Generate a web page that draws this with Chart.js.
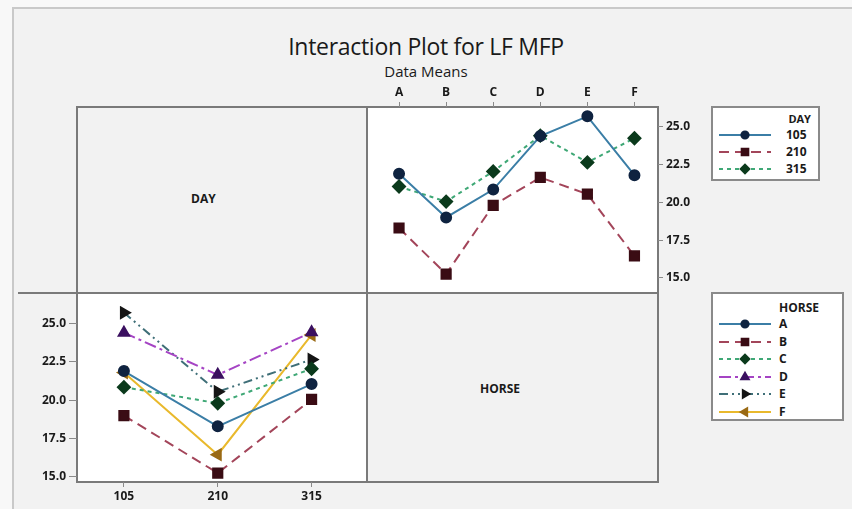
<!DOCTYPE html>
<html>
<head>
<meta charset="utf-8">
<script src="https://cdn.jsdelivr.net/npm/chart.js@4.4.1/dist/chart.umd.min.js"></script>
<style>
  html, body { margin: 0; padding: 0; }
  body { width: 852px; height: 509px; background: #f8f8f8; position: relative; overflow: hidden;
         font-family: "Open Sans", "Noto Sans", sans-serif; color: #1a1a1a; }
  .frame { position: absolute; left: 12px; top: 7px; width: 850px; height: 510px;
           background: #f2f2f2; border-left: 2px solid #c9c9c9; border-top: 2px solid #c9c9c9; }
  .cell { position: absolute; box-sizing: border-box; }
  .white { background: #fff; }
  .line { position: absolute; background: #7a7a7a; }
  .title { position: absolute; left: 0; width: 852px; top: 30px; text-align: center; font-size: 23px; letter-spacing: -0.3px; }
  .sub { position: absolute; left: 0; width: 852px; top: 61px; text-align: center; font-size: 15px; }
  .lab { position: absolute; font-size: 12px; font-weight: bold; }
  canvas.plot { position: absolute; }
  .legend { position: absolute; background: #fff; border: 2px solid #8a8a8a; box-sizing: border-box; }
  .legend .head { position: absolute; font-size: 11px; font-weight: bold; }
  .legend .row { position: absolute; left: 2px; height: 16px; width: 120px; }
  .legend .row span { position: absolute; font-size: 12px; font-weight: bold; top: -1px; }
</style>
</head>
<body>
<div class="frame"></div>
<div class="title">Interaction Plot for LF MFP</div>
<div class="sub">Data Means</div>

<div class="cell white" style="left:367px;top:107px;width:291px;height:186px"></div>
<div class="cell white" style="left:77px;top:293px;width:290px;height:189px"></div>
<div class="line" style="left:76px;top:106px;width:583px;height:2px"></div>
<div class="line" style="left:76px;top:481px;width:583px;height:2px"></div>
<div class="line" style="left:76px;top:106px;width:2px;height:377px"></div>
<div class="line" style="left:657px;top:106px;width:2px;height:377px"></div>
<div class="line" style="left:366px;top:106px;width:2px;height:377px"></div>
<div class="line" style="left:18px;top:292px;width:641px;height:2px"></div>

<div class="lab" style="left:191px;top:190px">DAY</div>
<div class="lab" style="left:480px;top:380px">HORSE</div>

<canvas class="plot" id="dayChart" style="left:367px;top:80px" width="335" height="213"></canvas>
<canvas class="plot" id="horseChart" style="left:20px;top:293px" width="347" height="216"></canvas>

<div class="legend" id="dayLegend" style="left:711px;top:106px;width:109px;height:75px">
  <div class="head" style="right:7px;top:3px">DAY</div>
</div>
<div class="legend" id="horseLegend" style="left:711px;top:292px;width:133px;height:129px">
  <div class="head" style="left:66px;top:5px;font-size:12px">HORSE</div>
</div>

<script>
// categories
var horses = ['A', 'B', 'C', 'D', 'E', 'F'];
var days = ['105', '210', '315'];

// means by horse, one array per DAY level
var day105 = [21.9, 19.0, 20.85, 24.4, 25.7, 21.8];
var day210 = [18.3, 15.25, 19.8, 21.65, 20.55, 16.45];
var day315 = [21.05, 20.05, 22.05, 24.42, 22.65, 24.25];

var yTicks = [15, 17.5, 20, 22.5, 25];
var yMin = 14.67, yMax = 26.32;

// line styles (Minitab-like)
var styles = {
  A: { line: '#3b7ea6', point: '#0f2340', dash: [], shape: 'circle', r: 5, rot: 0 },
  B: { line: '#a3455a', point: '#3a0c14', dash: [10, 6], shape: 'rect', r: 6.5, rot: 0 },
  C: { line: '#3fa876', point: '#0b3a1c', dash: [4, 4], shape: 'rectRot', r: 6, rot: 0 },
  D: { line: '#a544c4', point: '#3b1060', dash: [12, 4, 3, 4], shape: 'triangle', r: 6, rot: 0 },
  E: { line: '#3f6f78', point: '#151515', dash: [9, 4, 2, 4, 2, 4], shape: 'triangle', r: 6, rot: 90 },
  F: { line: '#e9b92c', point: '#9a6a14', dash: [], shape: 'triangle', r: 6, rot: -90 }
};
var dayStyles = [styles.A, styles.B, styles.C];
var dayArrays = [day105, day210, day315];

function makeSet(label, data, st) {
  return {
    label: label,
    data: data,
    borderColor: st.line,
    borderWidth: 2,
    borderDash: st.dash,
    backgroundColor: st.point,
    pointBackgroundColor: st.point,
    pointBorderColor: st.point,
    pointStyle: st.shape,
    pointRadius: st.r,
    pointRotation: st.rot,
    tension: 0,
    fill: false
  };
}

var tickFont = { family: '"Open Sans", "Noto Sans", sans-serif', size: 12, weight: 'bold' };

function yScale(pos, width, tickLen) {
  return {
    position: pos,
    min: yMin,
    max: yMax,
    afterBuildTicks: function (s) { s.ticks = yTicks.map(function (v) { return { value: v }; }); },
    afterFit: function (s) { s.width = width; },
    border: { display: false },
    grid: { drawOnChartArea: false, tickLength: tickLen, color: '#8a8a8a', tickWidth: 1 },
    ticks: { font: tickFont, color: '#1a1a1a', padding: 3, callback: function (v) { return Number(v).toFixed(1); } }
  };
}

function xScale(pos, height) {
  return {
    position: pos,
    offset: true,
    afterFit: function (s) { s.height = height; },
    border: { display: false },
    grid: { drawOnChartArea: false, tickLength: 5, color: '#8a8a8a', offset: false },
    ticks: { font: tickFont, color: '#1a1a1a', padding: 2, maxRotation: 0 }
  };
}

Chart.defaults.animation = false;

// top-right: DAY series across HORSE
new Chart(document.getElementById('dayChart'), {
  type: 'line',
  data: {
    labels: horses,
    datasets: days.map(function (d, i) { return makeSet(d, dayArrays[i], dayStyles[i]); })
  },
  options: {
    responsive: false,
    layout: { padding: 0 },
    plugins: { legend: { display: false }, tooltip: { enabled: false } },
    scales: { x: xScale('top', 27), y: yScale('right', 44, 5) }
  }
});

// bottom-left: HORSE series across DAY
var horseSets = horses.map(function (h, i) {
  return makeSet(h, dayArrays.map(function (arr) { return arr[i]; }), styles[h]);
});
new Chart(document.getElementById('horseChart'), {
  type: 'line',
  data: { labels: days, datasets: horseSets },
  options: {
    responsive: false,
    layout: { padding: 0 },
    plugins: { legend: { display: false }, tooltip: { enabled: false } },
    scales: { x: xScale('bottom', 27), y: yScale('left', 57, 8) }
  }
});

// legends: line sample + marker, drawn on small canvases
function legendRow(box, top, label, st, labelLeft) {
  var row = document.createElement('div');
  row.className = 'row';
  row.style.top = top + 'px';
  var c = document.createElement('canvas');
  c.width = 56; c.height = 16;
  c.style.position = 'absolute'; c.style.left = '2px'; c.style.top = '0px';
  var ctx = c.getContext('2d');
  ctx.strokeStyle = st.line; ctx.lineWidth = 2; ctx.setLineDash(st.dash);
  ctx.beginPath(); ctx.moveTo(2, 8); ctx.lineTo(54, 8); ctx.stroke();
  ctx.setLineDash([]);
  ctx.fillStyle = st.point; ctx.strokeStyle = st.point;
  Chart.helpers.drawPoint(ctx, { pointStyle: st.shape, radius: st.r * 0.72, rotation: st.rot, borderWidth: 1 }, 28, 8);
  row.appendChild(c);
  var s = document.createElement('span');
  s.textContent = label;
  s.style.left = labelLeft + 'px';
  row.appendChild(s);
  box.appendChild(row);
}

var dl = document.getElementById('dayLegend');
days.forEach(function (d, i) { legendRow(dl, 19 + i * 17, d, dayStyles[i], 71); });
var hl = document.getElementById('horseLegend');
horses.forEach(function (h, i) { legendRow(hl, 22 + i * 17.5, h, styles[h], 64); });
</script>
</body>
</html>
